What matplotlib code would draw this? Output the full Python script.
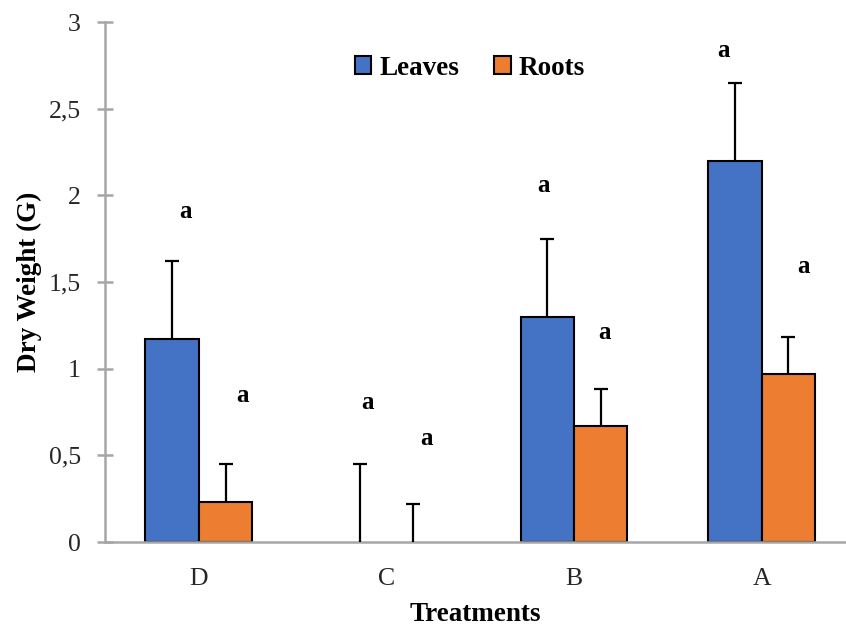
import numpy as np
import matplotlib
matplotlib.use("Agg")
import matplotlib.pyplot as plt

# Dry weight per treatment (g), mean and upper error
treatments = ["D", "C", "B", "A"]
leaves = [1.17, 0.0, 1.30, 2.20]
leaves_err = [0.45, 0.45, 0.45, 0.45]
roots = [0.23, 0.0, 0.67, 0.97]
roots_err = [0.22, 0.22, 0.21, 0.21]

# significance letters (baseline height, sideways nudge in category units)
leaves_letters = ["a", "a", "a", "a"]
roots_letters = ["a", "a", "a", "a"]
leaves_letter_y = [1.87, 0.77, 2.02, 2.80]
roots_letter_y = [0.81, 0.56, 1.17, 1.55]
leaves_letter_dx = [0.07, 0.04, -0.02, -0.06]
roots_letter_dx = [0.09, 0.07, 0.02, 0.08]

plt.rcParams["font.family"] = ["Liberation Serif", "DejaVu Serif"]

fig = plt.figure(figsize=(8.46, 6.28), dpi=100)
ax = fig.add_axes([0.1241, 0.1369, 0.8759, 0.828])

x = np.arange(len(treatments))
w = 0.285
blue = "#4472C4"
orange = "#ED7D31"

zeros = np.zeros(len(treatments))
# empty bars get no outline so nothing shows on the axis
ax.bar(x - w / 2, leaves, w, color=blue, edgecolor="black",
       linewidth=[1.5 if v > 0 else 0 for v in leaves], label="Leaves", zorder=2)
ax.bar(x + w / 2, roots, w, color=orange, edgecolor="black",
       linewidth=[1.5 if v > 0 else 0 for v in roots], label="Roots", zorder=2)

# upper error bars only: stem plus a cap on top
for xs, vals, errs in [(x - w / 2, leaves, leaves_err), (x + w / 2, roots, roots_err)]:
    ax.errorbar(xs, vals, yerr=[zeros, errs], fmt="none", ecolor="black",
                elinewidth=1.6, capsize=0, zorder=3)
    ax.plot(xs, np.add(vals, errs), ls="none", marker="_", ms=10, mew=1.6,
            color="black", zorder=3)

for i in range(len(treatments)):
    ax.text(x[i] - w / 2 + leaves_letter_dx[i], leaves_letter_y[i], leaves_letters[i],
            ha="center", va="baseline", fontsize=18, fontweight="bold")
    ax.text(x[i] + w / 2 + roots_letter_dx[i], roots_letter_y[i], roots_letters[i],
            ha="center", va="baseline", fontsize=18, fontweight="bold")

ax.set_xlim(-0.5, 3.45)
ax.set_ylim(0, 3)
ax.set_yticks([0, 0.5, 1, 1.5, 2, 2.5, 3])
ax.set_yticklabels(["0", "0,5", "1", "1,5", "2", "2,5", "3"])
ax.set_xticks(x)
ax.set_xticklabels(treatments)

axis_grey = "#A6A6A6"
for side in ["top", "right"]:
    ax.spines[side].set_visible(False)
for side in ["left", "bottom"]:
    ax.spines[side].set_color(axis_grey)
    ax.spines[side].set_linewidth(1.8)

ax.tick_params(axis="y", direction="inout", length=11, width=1.8,
               color=axis_grey, labelsize=18.5, labelcolor="#262626", pad=12)
ax.tick_params(axis="x", length=0, labelsize=18.5, labelcolor="#262626", pad=19)

ax.set_xlabel("Treatments", fontsize=19.5, fontweight="bold", labelpad=8)
ax.set_ylabel("Dry Weight (G)", fontsize=19.5, fontweight="bold", labelpad=5)

ax.legend(loc="center", bbox_to_anchor=(0.4926, 0.9115), ncol=2, frameon=False,
          prop={"size": 19.5, "weight": "bold"}, handlelength=0.6,
          handleheight=0.6, handletextpad=0.3, columnspacing=1.3)

fig.savefig("out.png", dpi=100)
